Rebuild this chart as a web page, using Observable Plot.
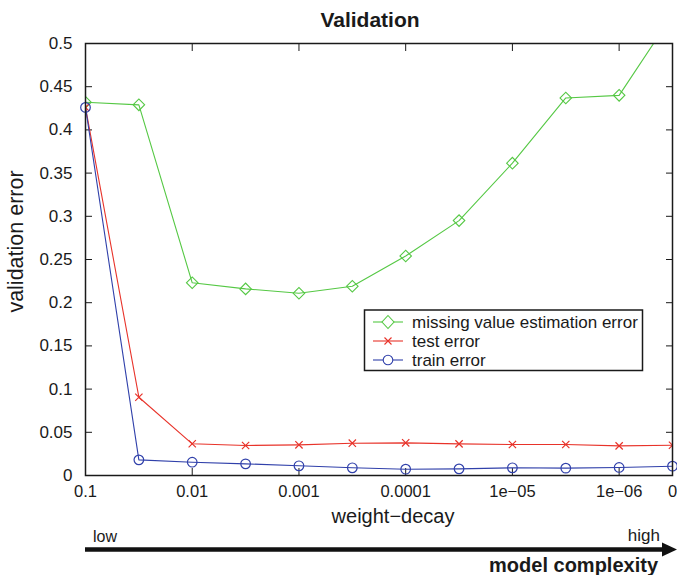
<!DOCTYPE html>
<html>
<head>
<meta charset="utf-8">
<script src="https://cdn.jsdelivr.net/npm/d3@7"></script>
<script src="https://cdn.jsdelivr.net/npm/@observablehq/plot@0.6"></script>
<style>
  body { margin: 0; background: #fff; }
  #wrap { position: relative; width: 677px; height: 575px; font-family: "Liberation Sans", Arial, sans-serif; color: #1a1a1a; }
  #wrap svg { position: absolute; left: 0; top: 0; }
</style>
</head>
<body>
<div id="wrap"></div>
<script>
// ---- data ----
const tickLabels = ["0.1", "", "0.01", "", "0.001", "", "0.0001", "", "1e−05", "", "1e−06", "0"];
const missingErr = [0.432, 0.429, 0.223, 0.216, 0.211, 0.219, 0.254, 0.295, 0.3615, 0.437, 0.440, 0.533];
const testErr    = [0.426, 0.0906, 0.0367, 0.0347, 0.0355, 0.0374, 0.0378, 0.0366, 0.0359, 0.0359, 0.0343, 0.035];
const trainErr   = [0.426, 0.0181, 0.0154, 0.0135, 0.0112, 0.0089, 0.0073, 0.0077, 0.0089, 0.0085, 0.0093, 0.0108];
const yTicks = [0, 0.05, 0.1, 0.15, 0.2, 0.25, 0.3, 0.35, 0.4, 0.45, 0.5];
const seriesNames = ["missing value estimation error", "test error", "train error"];
const colors = ["#55c844", "#e8332a", "#3040aa"];

const idx = tickLabels.map((_, i) => i);
const labelTicks = idx.filter(i => tickLabels[i] !== "");
const rows = [];
[missingErr, testErr, trainErr].forEach((arr, s) =>
  arr.forEach((v, i) => rows.push({series: seriesNames[s], i, v})));

const font = '"Liberation Sans", Arial, sans-serif';
const ink = "#1a1a1a";
const tk = 7;

const plot = Plot.plot({
  width: 677, height: 575,
  marginLeft: 85, marginRight: 5, marginTop: 43, marginBottom: 100,
  style: {fontFamily: font, fontSize: "17px", color: ink, background: "transparent", overflow: "visible"},
  x: {domain: [0, 11]},
  y: {domain: [0, 0.5]},
  color: {domain: seriesNames, range: colors},
  marks: [
    // inward ticks
    Plot.axisX({ticks: labelTicks, anchor: "bottom", tickSize: tk, dy: -tk, tickFormat: () => "", label: null}),
    Plot.axisX({ticks: labelTicks, anchor: "top", tickSize: tk, dy: tk, tickFormat: () => "", label: null}),
    Plot.axisY({ticks: yTicks, anchor: "left", tickSize: tk, dx: tk, tickFormat: () => "", label: null}),
    Plot.axisY({ticks: yTicks, anchor: "right", tickSize: tk, dx: -tk, tickFormat: () => "", label: null}),
    // tick labels
    Plot.axisX({ticks: labelTicks, anchor: "bottom", tickSize: 0, tickPadding: 10, tickFormat: i => tickLabels[i],
      fontSize: 16.5, label: null}),
    Plot.axisY({ticks: yTicks, anchor: "left", tickSize: 0, tickPadding: 13, tickFormat: d => String(d),
      fontSize: 17, label: null}),
    Plot.line(rows, {x: "i", y: "v", z: "series", stroke: "series", strokeWidth: 1.1, clip: true}),
    Plot.dot(rows.filter(d => d.series === seriesNames[0]), {x: "i", y: "v", symbol: "square", rotate: 45, r: 4.6, stroke: colors[0], fill: "none", strokeWidth: 1.1, clip: true}),
    Plot.dot(rows.filter(d => d.series === seriesNames[1]), {x: "i", y: "v", symbol: "times", r: 3.4, stroke: colors[1], strokeWidth: 1.2, clip: true}),
    Plot.dot(rows.filter(d => d.series === seriesNames[2]), {x: "i", y: "v", symbol: "circle", r: 4.8, stroke: colors[2], fill: "none", strokeWidth: 1.2}),
    Plot.frame({stroke: ink, strokeWidth: 1.5})
  ]
});
const wrap = document.getElementById("wrap");
wrap.appendChild(plot);

// ---- overlay: title, axis titles, legend, complexity arrow ----
const ov = d3.create("svg").attr("width", 677).attr("height", 575)
  .style("font-family", font).attr("fill", ink);

ov.append("text").attr("x", 370).attr("y", 27).attr("text-anchor", "middle")
  .attr("font-weight", "bold").attr("font-size", 21).text("Validation");

ov.append("text").attr("transform", "translate(23,241.5) rotate(-90)").attr("text-anchor", "middle")
  .attr("font-size", 21.5).text("validation error");

ov.append("text").attr("x", 393).attr("y", 523).attr("text-anchor", "middle")
  .attr("font-size", 20).text("weight−decay");

// legend
const lg = ov.append("g");
lg.append("rect").attr("x", 364.5).attr("y", 310).attr("width", 278).attr("height", 60.5)
  .attr("fill", "#fff").attr("stroke", ink).attr("stroke-width", 1.5);
seriesNames.forEach((name, s) => {
  const cy = 322 + s * 19;
  lg.append("line").attr("x1", 373).attr("x2", 403).attr("y1", cy).attr("y2", cy)
    .attr("stroke", colors[s]).attr("stroke-width", 1.1);
  const g = lg.append("g").attr("transform", `translate(388,${cy})`).attr("fill", "none")
    .attr("stroke", colors[s]).attr("stroke-width", 1.1);
  if (s === 0) g.append("path").attr("d", "M0,-6.5L6,0L0,6.5L-6,0Z").attr("fill", "#fff");
  if (s === 1) g.append("path").attr("d", "M-3.5,-3.5L3.5,3.5M-3.5,3.5L3.5,-3.5");
  if (s === 2) g.append("circle").attr("r", 4.8).attr("fill", "#fff");
  lg.append("text").attr("x", 412).attr("y", cy + 6).attr("font-size", 17).text(name);
});

// complexity arrow
ov.append("text").attr("x", 93).attr("y", 542).attr("font-size", 16).text("low");
ov.append("text").attr("x", 660).attr("y", 541).attr("text-anchor", "end").attr("font-size", 17).text("high");
ov.append("line").attr("x1", 85).attr("x2", 666).attr("y1", 549.5).attr("y2", 549.5)
  .attr("stroke", "#111").attr("stroke-width", 4.5);
ov.append("path").attr("d", "M662,542.5L677,549.5L662,556.5Z").attr("fill", "#111");
ov.append("text").attr("x", 658).attr("y", 572).attr("text-anchor", "end")
  .attr("font-weight", "bold").attr("font-size", 20).text("model complexity");

wrap.appendChild(ov.node());
</script>
</body>
</html>
